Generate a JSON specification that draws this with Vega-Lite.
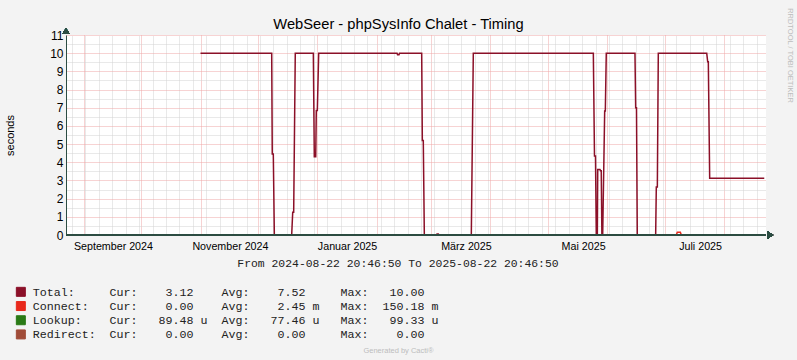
{
  "$schema": "https://vega.github.io/schema/vega-lite/v6.json",
  "width": 700,
  "height": 200,
  "autosize": "none",
  "padding": {"left": 66, "top": 35, "right": 31, "bottom": 125},
  "background": "#f3f3f3",
  "config": {"font": "Liberation Sans", "view": {"fill": "#ffffff", "stroke": null}},
  "datasets": {
    "timing": [
      {"t": "2024-11-01T00:00:00", "series": "Total", "v": 10},
      {"t": "2024-12-08T03:00:00", "series": "Total", "v": 10},
      {"t": "2024-12-08T10:00:00", "series": "Total", "v": 4.45},
      {"t": "2024-12-08T23:00:00", "series": "Total", "v": 4.45},
      {"t": "2024-12-09T12:00:00", "series": "Total", "v": 0},
      {"t": "2024-12-18T13:00:00", "series": "Total", "v": 0},
      {"t": "2024-12-19T02:00:00", "series": "Total", "v": 1.25},
      {"t": "2024-12-19T14:00:00", "series": "Total", "v": 1.25},
      {"t": "2024-12-20T10:00:00", "series": "Total", "v": 10},
      {"t": "2024-12-29T20:00:00", "series": "Total", "v": 10},
      {"t": "2024-12-30T08:00:00", "series": "Total", "v": 4.3},
      {"t": "2024-12-31T02:00:00", "series": "Total", "v": 4.3},
      {"t": "2024-12-31T09:00:00", "series": "Total", "v": 6.85},
      {"t": "2024-12-31T22:00:00", "series": "Total", "v": 6.85},
      {"t": "2025-01-01T15:00:00", "series": "Total", "v": 10},
      {"t": "2025-02-11T12:00:00", "series": "Total", "v": 10},
      {"t": "2025-02-11T18:00:00", "series": "Total", "v": 9.92},
      {"t": "2025-02-12T12:00:00", "series": "Total", "v": 9.92},
      {"t": "2025-02-12T18:00:00", "series": "Total", "v": 10},
      {"t": "2025-02-24T08:00:00", "series": "Total", "v": 10},
      {"t": "2025-02-24T16:00:00", "series": "Total", "v": 5.2},
      {"t": "2025-02-25T04:00:00", "series": "Total", "v": 5.2},
      {"t": "2025-02-25T17:00:00", "series": "Total", "v": 0},
      {"t": "2025-03-04T00:00:00", "series": "Total", "v": 0},
      {"t": "2025-03-04T08:00:00", "series": "Total", "v": 0.06},
      {"t": "2025-03-05T00:00:00", "series": "Total", "v": 0.06},
      {"t": "2025-03-05T08:00:00", "series": "Total", "v": 0},
      {"t": "2025-03-22T05:00:00", "series": "Total", "v": 0},
      {"t": "2025-03-23T06:00:00", "series": "Total", "v": 10},
      {"t": "2025-05-24T20:00:00", "series": "Total", "v": 10},
      {"t": "2025-05-25T10:30:00", "series": "Total", "v": 4.35},
      {"t": "2025-05-25T23:00:00", "series": "Total", "v": 4.35},
      {"t": "2025-05-26T09:00:00", "series": "Total", "v": 0},
      {"t": "2025-05-26T22:00:00", "series": "Total", "v": 0},
      {"t": "2025-05-27T03:00:00", "series": "Total", "v": 3.6},
      {"t": "2025-05-28T07:00:00", "series": "Total", "v": 3.6},
      {"t": "2025-05-28T14:00:00", "series": "Total", "v": 3.54},
      {"t": "2025-05-28T23:00:00", "series": "Total", "v": 3.54},
      {"t": "2025-05-29T07:00:00", "series": "Total", "v": 0},
      {"t": "2025-05-29T17:00:00", "series": "Total", "v": 0},
      {"t": "2025-05-30T18:00:00", "series": "Total", "v": 6.82},
      {"t": "2025-05-31T02:00:00", "series": "Total", "v": 6.82},
      {"t": "2025-05-31T14:00:00", "series": "Total", "v": 10},
      {"t": "2025-06-15T13:00:00", "series": "Total", "v": 10},
      {"t": "2025-06-15T22:00:00", "series": "Total", "v": 7.0},
      {"t": "2025-06-16T08:00:00", "series": "Total", "v": 7.0},
      {"t": "2025-06-16T18:00:00", "series": "Total", "v": 0},
      {"t": "2025-06-26T08:00:00", "series": "Total", "v": 0},
      {"t": "2025-06-26T16:00:00", "series": "Total", "v": 2.64},
      {"t": "2025-06-27T05:00:00", "series": "Total", "v": 2.64},
      {"t": "2025-06-27T17:00:00", "series": "Total", "v": 10},
      {"t": "2025-07-22T23:00:00", "series": "Total", "v": 10},
      {"t": "2025-07-23T11:00:00", "series": "Total", "v": 9.53},
      {"t": "2025-07-23T19:00:00", "series": "Total", "v": 9.53},
      {"t": "2025-07-24T12:00:00", "series": "Total", "v": 3.12},
      {"t": "2025-08-21T23:00:00", "series": "Total", "v": 3.12},
      {"t": "2024-11-01T00:00:00", "series": "Connect", "v": 0},
      {"t": "2025-07-07T02:00:00", "series": "Connect", "v": 0},
      {"t": "2025-07-07T15:00:00", "series": "Connect", "v": 0.15},
      {"t": "2025-07-09T05:00:00", "series": "Connect", "v": 0.15},
      {"t": "2025-07-09T17:00:00", "series": "Connect", "v": 0},
      {"t": "2025-08-21T23:00:00", "series": "Connect", "v": 0},
      {"t": "2024-11-01T00:00:00", "series": "Lookup", "v": 0.00008},
      {"t": "2025-08-21T23:00:00", "series": "Lookup", "v": 0.00009},
      {"t": "2024-11-01T00:00:00", "series": "Redirect", "v": 0},
      {"t": "2025-08-21T23:00:00", "series": "Redirect", "v": 0}
    ]
  },
  "data": {"name": "timing"},
  "resolve": {"axis": {"x": "independent", "y": "independent"}},
  "layer": [
    {
      "mark": {"type": "point", "opacity": 0},
      "encoding": {
        "x": {"field": "t", "type": "temporal",
          "scale": {"domain": [{"year": 2024, "month": 8, "date": 22, "hours": 20, "minutes": 46, "seconds": 50}, {"year": 2025, "month": 8, "date": 22, "hours": 20, "minutes": 46, "seconds": 50}], "nice": false},
          "axis": {"orient": "top", "labels": false, "ticks": false, "domain": false, "grid": true, "gridColor": "#d2d2d2", "gridDash": [1, 1], "gridWidth": 1,
            "title": "WebSeer - phpSysInfo Chalet - Timing", "titleFont": "Liberation Sans", "titleFontSize": 14.7, "titleFontWeight": "normal", "titleColor": "#000000",
            "titleX": 332, "titleY": -7, "titleAlign": "center", "titleBaseline": "alphabetic",
            "values": [
              {"year": 2024, "month": 8, "date": 26}, {"year": 2024, "month": 9, "date": 2}, {"year": 2024, "month": 9, "date": 9}, {"year": 2024, "month": 9, "date": 16}, {"year": 2024, "month": 9, "date": 23}, {"year": 2024, "month": 9, "date": 30},
              {"year": 2024, "month": 10, "date": 7}, {"year": 2024, "month": 10, "date": 14}, {"year": 2024, "month": 10, "date": 21}, {"year": 2024, "month": 10, "date": 28},
              {"year": 2024, "month": 11, "date": 4}, {"year": 2024, "month": 11, "date": 11}, {"year": 2024, "month": 11, "date": 18}, {"year": 2024, "month": 11, "date": 25},
              {"year": 2024, "month": 12, "date": 2}, {"year": 2024, "month": 12, "date": 9}, {"year": 2024, "month": 12, "date": 16}, {"year": 2024, "month": 12, "date": 23}, {"year": 2024, "month": 12, "date": 30},
              {"year": 2025, "month": 1, "date": 6}, {"year": 2025, "month": 1, "date": 13}, {"year": 2025, "month": 1, "date": 20}, {"year": 2025, "month": 1, "date": 27},
              {"year": 2025, "month": 2, "date": 3}, {"year": 2025, "month": 2, "date": 10}, {"year": 2025, "month": 2, "date": 17}, {"year": 2025, "month": 2, "date": 24},
              {"year": 2025, "month": 3, "date": 3}, {"year": 2025, "month": 3, "date": 10}, {"year": 2025, "month": 3, "date": 17}, {"year": 2025, "month": 3, "date": 24}, {"year": 2025, "month": 3, "date": 31},
              {"year": 2025, "month": 4, "date": 7}, {"year": 2025, "month": 4, "date": 14}, {"year": 2025, "month": 4, "date": 21}, {"year": 2025, "month": 4, "date": 28},
              {"year": 2025, "month": 5, "date": 5}, {"year": 2025, "month": 5, "date": 12}, {"year": 2025, "month": 5, "date": 19}, {"year": 2025, "month": 5, "date": 26},
              {"year": 2025, "month": 6, "date": 2}, {"year": 2025, "month": 6, "date": 9}, {"year": 2025, "month": 6, "date": 16}, {"year": 2025, "month": 6, "date": 23}, {"year": 2025, "month": 6, "date": 30},
              {"year": 2025, "month": 7, "date": 7}, {"year": 2025, "month": 7, "date": 14}, {"year": 2025, "month": 7, "date": 21}, {"year": 2025, "month": 7, "date": 28},
              {"year": 2025, "month": 8, "date": 4}, {"year": 2025, "month": 8, "date": 11}, {"year": 2025, "month": 8, "date": 18}
            ]}},
        "y": {"field": "v", "type": "quantitative", "scale": {"domain": [0, 11], "nice": false},
          "axis": {"orient": "left", "title": null, "labels": false, "ticks": false, "domain": false, "grid": true, "gridColor": "#d2d2d2", "gridDash": [1, 1], "gridWidth": 1,
            "values": [0.5, 1.5, 2.5, 3.5, 4.5, 5.5, 6.5, 7.5, 8.5, 9.5, 10.5]}}
      }
    },
    {
      "mark": {"type": "point", "opacity": 0},
      "encoding": {
        "x": {"field": "t", "type": "temporal",
          "scale": {"domain": [{"year": 2024, "month": 8, "date": 22, "hours": 20, "minutes": 46, "seconds": 50}, {"year": 2025, "month": 8, "date": 22, "hours": 20, "minutes": 46, "seconds": 50}], "nice": false},
          "axis": {"orient": "bottom", "title": null, "labels": false, "ticks": false, "domain": false, "grid": true, "gridColor": "#eea6a6", "gridDash": [1, 1], "gridWidth": 1,
            "values": [
              {"year": 2024, "month": 9, "date": 1}, {"year": 2024, "month": 10, "date": 1}, {"year": 2024, "month": 11, "date": 1}, {"year": 2024, "month": 12, "date": 1},
              {"year": 2025, "month": 1, "date": 1}, {"year": 2025, "month": 2, "date": 1}, {"year": 2025, "month": 3, "date": 1}, {"year": 2025, "month": 4, "date": 1},
              {"year": 2025, "month": 5, "date": 1}, {"year": 2025, "month": 6, "date": 1}, {"year": 2025, "month": 7, "date": 1}, {"year": 2025, "month": 8, "date": 1}
            ]}},
        "y": {"field": "v", "type": "quantitative", "scale": {"domain": [0, 11], "nice": false},
          "axis": {"orient": "left", "title": null, "labels": false, "ticks": false, "domain": false, "grid": true, "gridColor": "#eea6a6", "gridDash": [1, 1], "gridWidth": 1,
            "values": [1, 2, 3, 4, 5, 6, 7, 8, 9, 10, 11]}}
      }
    },
    {
      "mark": {"type": "point", "opacity": 0},
      "encoding": {
        "x": {"field": "t", "type": "temporal",
          "scale": {"domain": [{"year": 2024, "month": 8, "date": 22, "hours": 20, "minutes": 46, "seconds": 50}, {"year": 2025, "month": 8, "date": 22, "hours": 20, "minutes": 46, "seconds": 50}], "nice": false},
          "axis": {"orient": "bottom", "labels": false, "ticks": false, "domain": false, "grid": false,
            "title": "Generated by Cacti®", "titleFont": "Liberation Sans", "titleFontSize": 7.5, "titleFontWeight": "normal", "titleColor": "#bdbdbd",
            "titleX": 332, "titleY": 115, "titleAlign": "center", "titleBaseline": "middle"}},
        "y": {"field": "v", "type": "quantitative", "scale": {"domain": [0, 11], "nice": false},
          "axis": {"orient": "right", "labels": false, "ticks": false, "domain": false, "grid": false,
            "title": "RRDTOOL / TOBI OETIKER", "titleFont": "Liberation Sans", "titleFontSize": 7.5, "titleFontWeight": "normal", "titleColor": "#bdbdbd",
            "titleAngle": 90, "titleX": 23, "titleY": 20, "titleAlign": "center", "titleBaseline": "middle"}}
      }
    },
    {
      "mark": {"type": "line", "strokeWidth": 1.5, "interpolate": "linear"},
      "encoding": {
        "x": {"field": "t", "type": "temporal",
          "scale": {"domain": [{"year": 2024, "month": 8, "date": 22, "hours": 20, "minutes": 46, "seconds": 50}, {"year": 2025, "month": 8, "date": 22, "hours": 20, "minutes": 46, "seconds": 50}], "nice": false},
          "axis": {"orient": "bottom", "grid": false, "ticks": false, "tickSize": 0, "domain": false,
            "values": [
              {"year": 2024, "month": 9, "date": 16, "hours": 8}, {"year": 2024, "month": 11, "date": 16, "hours": 8}, {"year": 2025, "month": 1, "date": 16, "hours": 10},
              {"year": 2025, "month": 3, "date": 19, "hours": 10}, {"year": 2025, "month": 5, "date": 19, "hours": 12}, {"year": 2025, "month": 7, "date": 19, "hours": 12}
            ],
            "labelExpr": "['Januar','Februar','März','April','Mai','Juni','Juli','August','September','Oktober','November','Dezember'][month(datum.value)] + ' ' + year(datum.value)",
            "labelFont": "Liberation Sans", "labelFontSize": 10.7, "labelColor": "#000000", "labelPadding": 14, "labelBaseline": "alphabetic", "labelFlush": false, "labelOverlap": false,
            "title": "From 2024-08-22 20:46:50 To 2025-08-22 20:46:50", "titleFont": "Liberation Mono", "titleFontSize": 11.4, "titleFontWeight": "normal", "titleColor": "#222222",
            "titleX": 331.5, "titleY": 28, "titleAlign": "center", "titleBaseline": "middle"}},
        "y": {"field": "v", "type": "quantitative", "scale": {"domain": [0, 11], "nice": false},
          "axis": {"orient": "left", "grid": false, "ticks": false, "tickSize": 0, "domain": true, "domainColor": "#2C4D43", "domainWidth": 1,
            "values": [0, 1, 2, 3, 4, 5, 6, 7, 8, 9, 10, 11],
            "labelFont": "Liberation Sans", "labelFontSize": 12, "labelColor": "#000000", "labelPadding": 3,
            "title": "seconds", "titleFont": "Liberation Sans", "titleFontSize": 11, "titleFontWeight": "normal", "titleColor": "#000000",
            "titleAngle": 270, "titleX": -56, "titleY": 100, "titleAlign": "center", "titleBaseline": "middle"}},
        "color": {"field": "series", "type": "nominal",
          "scale": {"domain": ["Total", "Connect", "Lookup", "Redirect"], "range": ["#8B1028", "#E8291C", "#2A7A16", "#A04C38"]},
          "legend": {"orient": "none", "legendX": -51, "legendY": 251, "direction": "vertical", "title": null, "padding": 0,
            "symbolType": "square", "symbolSize": 81, "symbolStrokeWidth": 1, "symbolStrokeColor": "#333333", "symbolOpacity": 1,
            "labelFont": "Liberation Mono", "labelFontSize": 11.67, "labelColor": "#222222", "labelLimit": 800, "labelOffset": 6, "rowPadding": 0.2,
            "labelExpr": "datum.label == 'Total' ? 'Total:\u00a0\u00a0\u00a0\u00a0\u00a0Cur:\u00a0\u00a0\u00a0\u00a03.12\u00a0\u00a0\u00a0\u00a0Avg:\u00a0\u00a0\u00a0\u00a07.52\u00a0\u00a0\u00a0\u00a0\u00a0Max:\u00a0\u00a0\u00a010.00' : datum.label == 'Connect' ? 'Connect:\u00a0\u00a0\u00a0Cur:\u00a0\u00a0\u00a0\u00a00.00\u00a0\u00a0\u00a0\u00a0Avg:\u00a0\u00a0\u00a0\u00a02.45\u00a0m\u00a0\u00a0\u00a0Max:\u00a0\u00a0150.18\u00a0m' : datum.label == 'Lookup' ? 'Lookup:\u00a0\u00a0\u00a0\u00a0Cur:\u00a0\u00a0\u00a089.48\u00a0u\u00a0\u00a0Avg:\u00a0\u00a0\u00a077.46\u00a0u\u00a0\u00a0\u00a0Max:\u00a0\u00a0\u00a099.33\u00a0u' : 'Redirect:\u00a0\u00a0Cur:\u00a0\u00a0\u00a0\u00a00.00\u00a0\u00a0\u00a0\u00a0Avg:\u00a0\u00a0\u00a0\u00a00.00\u00a0\u00a0\u00a0\u00a0\u00a0Max:\u00a0\u00a0\u00a0\u00a00.00'",
            "encode": {"symbols": {"update": {"fill": {"scale": "color", "field": "value"}, "stroke": {"value": "#333333"}, "strokeWidth": {"value": 1}, "opacity": {"value": 1}}}}}}
      }
    },
    {
      "mark": {"type": "rule", "color": "#2C4D43", "strokeWidth": 1},
      "encoding": {"y": {"datum": 0, "type": "quantitative", "scale": {"domain": [0, 11], "nice": false}, "axis": null}}
    },
    {
      "mark": {"type": "point", "shape": "M-0.8,-1L0.8,0L-0.8,1Z", "filled": true, "size": 49, "color": "#2C4D43", "opacity": 1},
      "encoding": {
        "x": {"datum": {"year": 2025, "month": 8, "date": 25, "hours": 4}, "type": "temporal",
          "scale": {"domain": [{"year": 2024, "month": 8, "date": 22, "hours": 20, "minutes": 46, "seconds": 50}, {"year": 2025, "month": 8, "date": 22, "hours": 20, "minutes": 46, "seconds": 50}], "nice": false}, "axis": null},
        "y": {"datum": 0, "type": "quantitative", "scale": {"domain": [0, 11], "nice": false}, "axis": null}
      }
    },
    {
      "mark": {"type": "point", "shape": "M-1,0.8L0,-0.8L1,0.8Z", "filled": true, "size": 49, "color": "#2C4D43", "opacity": 1},
      "encoding": {
        "x": {"datum": {"year": 2024, "month": 8, "date": 22, "hours": 20, "minutes": 46, "seconds": 50}, "type": "temporal",
          "scale": {"domain": [{"year": 2024, "month": 8, "date": 22, "hours": 20, "minutes": 46, "seconds": 50}, {"year": 2025, "month": 8, "date": 22, "hours": 20, "minutes": 46, "seconds": 50}], "nice": false}, "axis": null},
        "y": {"datum": 11.22, "type": "quantitative", "scale": {"domain": [0, 11], "nice": false}, "axis": null}
      }
    }
  ]
}
